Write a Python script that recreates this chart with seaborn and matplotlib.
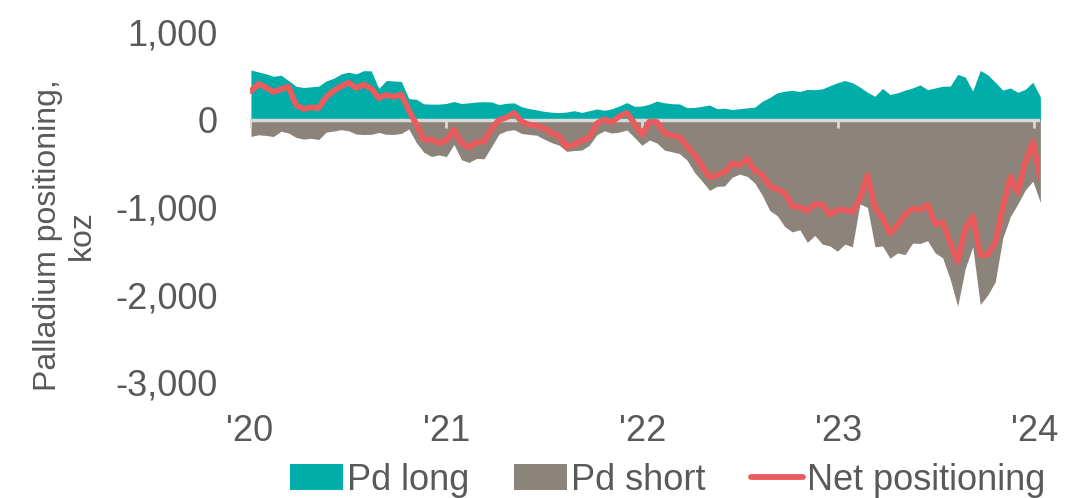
import pandas as pd
import numpy as np
import matplotlib.pyplot as plt
import seaborn as sns

sns.set_style("white")
plt.rcParams["font.family"] = ["Liberation Sans", "DejaVu Sans"]

# Palladium positioning, koz (fortnightly)
long_koz = [570, 548, 527, 498, 510, 450, 385, 370, 378, 385,
            445, 475, 525, 545, 525, 563, 560, 360, 450, 445,
            440, 243, 235, 183, 180, 180, 188, 210, 187, 195,
            204, 208, 205, 175, 190, 195, 150, 130, 114, 98,
            88, 83, 90, 105, 85, 105, 125, 110, 127, 160,
            198, 155, 158, 180, 215, 195, 185, 182, 140, 142,
            155, 170, 128, 134, 118, 128, 138, 145, 212, 256,
            310, 328, 338, 325, 348, 345, 355, 390, 425, 450,
            425, 375, 315, 270, 360, 290, 310, 340, 365, 400,
            345, 365, 385, 385, 520, 490, 330, 565, 515, 430,
            340, 365, 315, 350, 430, 262]
short_koz = [-189, -170, -178, -190, -130, -150, -200, -220, -210, -225,
             -140, -127, -112, -125, -162, -167, -165, -143, -165, -166,
             -155, -104, -260, -370, -418, -400, -420, -280, -455, -486,
             -440, -445, -305, -160, -125, -112, -155, -166, -175, -220,
             -260, -290, -360, -350, -345, -290, -170, -125, -150, -140,
             -115, -200, -290, -230, -265, -345, -365, -385, -460, -600,
             -700, -805, -759, -755, -655, -620, -645, -720, -860, -1035,
             -1095, -1220, -1280, -1255, -1400, -1320, -1420, -1440, -1500, -1420,
             -1450, -960, -1000, -1450, -1440, -1580, -1520, -1540, -1408, -1412,
             -1380, -1520, -1575, -1820, -2130, -1700, -1450, -2110, -2000, -1850,
             -1350, -1106, -960, -800, -700, -945]
net_koz = [330, 410, 370, 320, 350, 380, 170, 125, 143, 135,
           260, 332, 385, 425, 365, 403, 360, 250, 285, 265,
           290, 108, -50, -225, -225, -265, -235, -110, -265, -312,
           -255, -250, -100, 0, 28, 80, -20, -55, -67, -95,
           -152, -190, -310, -280, -240, -200, -40, 5, -25, 40,
           80, -40, -170, -20, -25, -150, -180, -195, -300, -400,
           -530, -655, -630, -595, -495, -520, -440, -580, -630, -755,
           -795, -835, -985, -995, -1040, -960, -970, -1085, -1025, -1030,
           -1050, -900, -630, -1000, -1120, -1300, -1200, -1080, -1010, -1030,
           -968, -1190, -1170, -1400, -1620, -1250, -1100, -1545, -1540, -1400,
           -1000, -650, -830, -480, -250, -663]

dates = pd.date_range("2020-01-03", periods=len(long_koz), freq="14D")
year_ticks = pd.to_datetime(["2020-01-01", "2021-01-01", "2022-01-01", "2023-01-01", "2024-01-01"])
year_labels = ["'20", "'21", "'22", "'23", "'24"]

teal = "#00ADA8"
taupe = "#8C847A"
red = "#EA5B5E"
text_grey = "#595959"
line_grey = "#D9D9D9"

fig = plt.figure(figsize=(10.77, 4.98), dpi=100)
ax = fig.add_axes([0.232, 0.232, 0.734, 0.703])

ax.fill_between(dates, 0, long_koz, color=teal, lw=0, label="Pd long", zorder=1)
ax.fill_between(dates, short_koz, 0, color=taupe, lw=0, label="Pd short", zorder=1)
ax.axhline(0, color=line_grey, lw=2.5, zorder=2)
ax.vlines(year_ticks, -95, 0, color=line_grey, lw=2, zorder=2)
sns.lineplot(x=dates, y=net_koz, ax=ax, color=red, lw=4.2, label="Net positioning", zorder=3)

ax.set_xlim(pd.Timestamp("2020-01-01"), dates[-1])
ax.set_ylim(-3000, 1000)
ax.set_yticks([1000, 0, -1000, -2000, -3000])
ax.set_yticklabels(["1,000", "0", "-1,000", "-2,000", "-3,000"])
ax.set_xticks(year_ticks)
ax.set_xticklabels(year_labels)
ax.tick_params(axis="both", length=0, labelsize=26, colors=text_grey)
ax.tick_params(axis="y", pad=23)
ax.tick_params(axis="x", pad=23)
for s in ax.spines.values():
    s.set_visible(False)

ax.set_xlabel("")
ax.set_ylabel("Palladium positioning,\nkoz", fontsize=23, color=text_grey, linespacing=1.15)
ax.yaxis.set_label_coords(-0.194, 0.42)

handles, labels = ax.get_legend_handles_labels()
ax.legend(handles, labels, ncol=3, frameon=False, fontsize=26, labelcolor=text_grey,
          handlelength=1.45, handletextpad=0.12, columnspacing=1.25,
          loc="center", bbox_to_anchor=(668 / 1077, 1 - 480 / 498),
          bbox_transform=fig.transFigure, borderpad=0)

fig.savefig("out.png", dpi=100)
